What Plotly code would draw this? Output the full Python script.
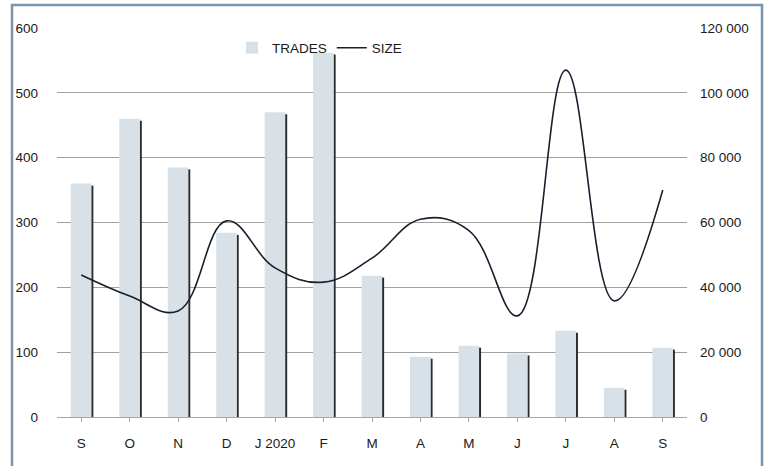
import plotly.graph_objects as go

months = ["S", "O", "N", "D", "J 2020", "F", "M", "A", "M", "J", "J", "A", "S"]
trades = [360, 460, 385, 284, 470, 562, 218, 93, 110, 98, 133, 45, 107]
size = [43800, 37300, 32700, 60500, 46000, 41600, 49000, 61000, 57500, 31200, 107000, 35800, 70000]
left_ticks = [0, 100, 200, 300, 400, 500, 600]
right_ticks = [0, 20000, 40000, 60000, 80000, 100000, 120000]
right_labels = ["0", "20 000", "40 000", "60 000", "80 000", "100 000", "120 000"]

x = list(range(len(months)))
FONT = dict(family="Liberation Sans, Arial, sans-serif", size=13.5, color="#1a1a1a")

fig = go.Figure()
# shadow on right edge of bars
fig.add_trace(go.Bar(x=x, y=trades, base=-3, width=0.045, offset=0.205,
                     marker=dict(color="#2b2b2b", line=dict(width=0)),
                     showlegend=False, hoverinfo="skip", yaxis="y"))
fig.add_trace(go.Bar(x=x, y=trades, width=0.425, offset=-0.215, name="TRADES",
                     marker=dict(color="#d9e1e8", line=dict(width=0)), yaxis="y"))
fig.add_trace(go.Scatter(x=x, y=size, name="SIZE", mode="lines",
                         line=dict(color="#17202e", width=1.6, shape="spline", smoothing=1.15),
                         yaxis="y2"))

fig.update_layout(
    template="none",
    width=771, height=466,
    margin=dict(l=57, r=84, t=28, b=49, autoexpand=False),
    paper_bgcolor="white", plot_bgcolor="white",
    font=FONT,
    barmode="overlay",
    showlegend=True,
    legend=dict(orientation="h", x=(232 - 57) / 630, y=(417 - 48) / 389,
                xanchor="left", yanchor="middle",
                bgcolor="rgba(0,0,0,0)", font=FONT, itemwidth=30, tracegroupgap=0),
    xaxis=dict(tickmode="array", tickvals=x, ticktext=months, range=[-0.5, 12.5],
               showgrid=False, showline=True, linecolor="#a6a6a6", linewidth=1,
               ticks="outside", tickson="boundaries", ticklen=4, tickcolor="#a6a6a6",
               ticklabelstandoff=10, zeroline=False, automargin=False),
    yaxis=dict(range=[0, 600], tickvals=left_ticks, showgrid=True, gridcolor="#a0a0a0",
               gridwidth=1, zeroline=False, showline=False, ticks="", ticklabelstandoff=18,
               automargin=False),
    yaxis2=dict(range=[0, 120000], tickvals=right_ticks, ticktext=right_labels,
                overlaying="y", side="right", showgrid=False, zeroline=False,
                showline=False, ticks="", ticklabelstandoff=12, automargin=False),
    shapes=[dict(type="rect", xref="paper", yref="paper",
                 x0=(12 - 57) / 630, x1=(762 - 57) / 630,
                 y0=-0.2, y1=(417 - 5) / 389,
                 line=dict(color="#7b93ad", width=2.5), layer="above")],
)

fig.write_html("out.html", config={"displayModeBar": False},
               post_script="document.body.style.margin='0';")
